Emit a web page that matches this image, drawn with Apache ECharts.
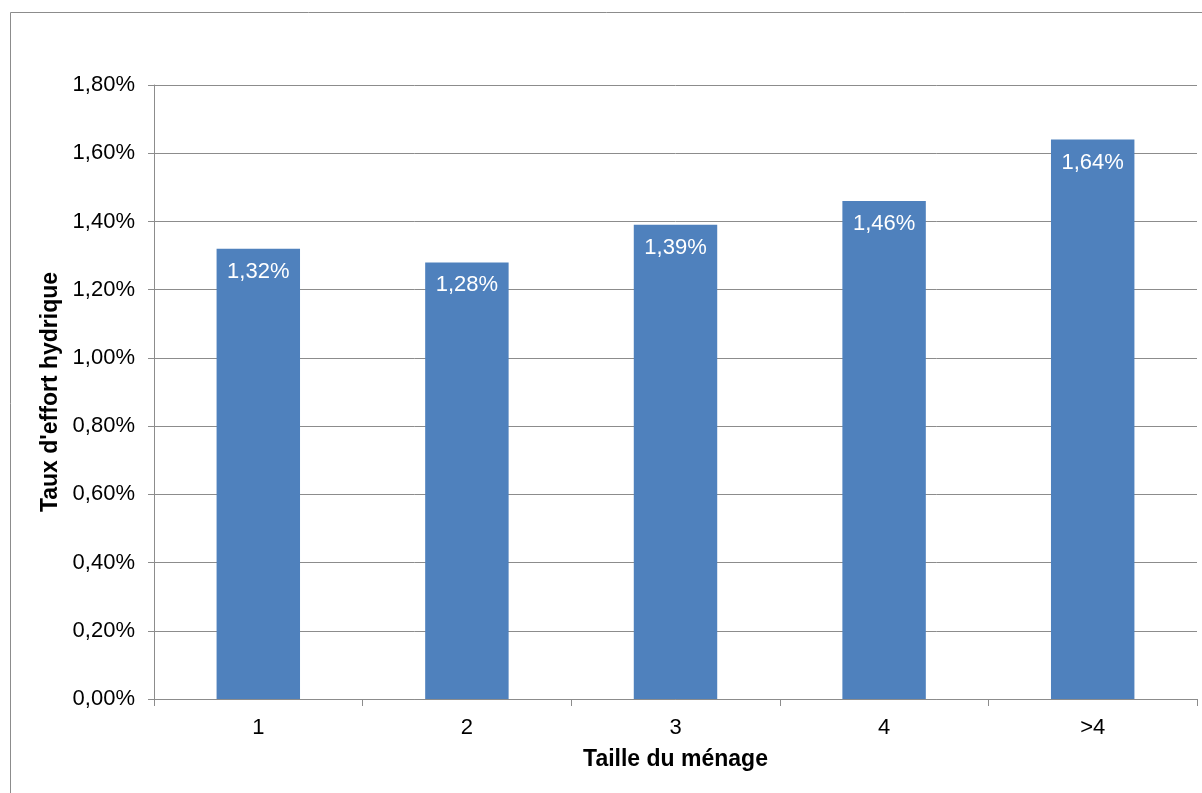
<!DOCTYPE html>
<html>
<head>
<meta charset="utf-8">
<script src="https://cdn.jsdelivr.net/npm/echarts@6/dist/echarts.min.js"></script>
<style>
html,body{margin:0;padding:0;background:#fff;}
#chart{width:1202px;height:793px;}
</style>
</head>
<body>
<div id="chart"></div>
<script>
const categories = ['1', '2', '3', '4', '>4'];
const values = [1.32, 1.28, 1.39, 1.46, 1.64];
const yTicks = { min: 0, max: 1.8, interval: 0.2 };
const xTitle = 'Taille du ménage';
const yTitle = "Taux d'effort hydrique";

const fmt = v => v.toFixed(2).replace('.', ',') + '%';
const font = '"Liberation Sans", Arial, sans-serif';

const chart = echarts.init(document.getElementById('chart'));
chart.setOption({
  animation: false,
  backgroundColor: '#fff',
  graphic: [{
    type: 'rect', shape: { x: 10.5, y: 12.5, width: 1220, height: 820 },
    style: { fill: 'none', stroke: '#8c8c8c', lineWidth: 1 }, silent: true
  }],
  grid: { left: 154, right: 5, top: 85, bottom: 94, containLabel: false },
  xAxis: {
    type: 'category', data: categories,
    axisLine: { lineStyle: { color: '#8c8c8c', width: 1 } },
    axisTick: { show: true, length: 7, lineStyle: { color: '#8c8c8c' } },
    axisLabel: { color: '#000', fontSize: 22, fontFamily: font, margin: 18 },
    name: xTitle, nameLocation: 'middle', nameGap: 49,
    nameTextStyle: { color: '#000', fontSize: 23, fontWeight: 'bold', fontFamily: font }
  },
  yAxis: {
    type: 'value', min: yTicks.min, max: yTicks.max, interval: yTicks.interval,
    axisLine: { show: true, lineStyle: { color: '#8c8c8c', width: 1 } },
    axisTick: { show: true, length: 6, lineStyle: { color: '#8c8c8c' } },
    splitLine: { lineStyle: { color: '#8c8c8c', width: 1 } },
    axisLabel: { color: '#000', fontSize: 22, fontFamily: font, margin: 19, formatter: fmt },
    name: yTitle, nameLocation: 'middle', nameGap: 88, nameRotate: 90,
    nameTextStyle: { color: '#000', fontSize: 23, fontWeight: 'bold', fontFamily: font }
  },
  series: [{
    type: 'bar', data: values, barWidth: '40%',
    itemStyle: { color: '#4f81bd' },
    label: {
      show: true, position: 'insideTop', distance: 12, color: '#fff',
      fontSize: 22, fontFamily: font, formatter: p => fmt(p.value)
    }
  }]
});
</script>
</body>
</html>
